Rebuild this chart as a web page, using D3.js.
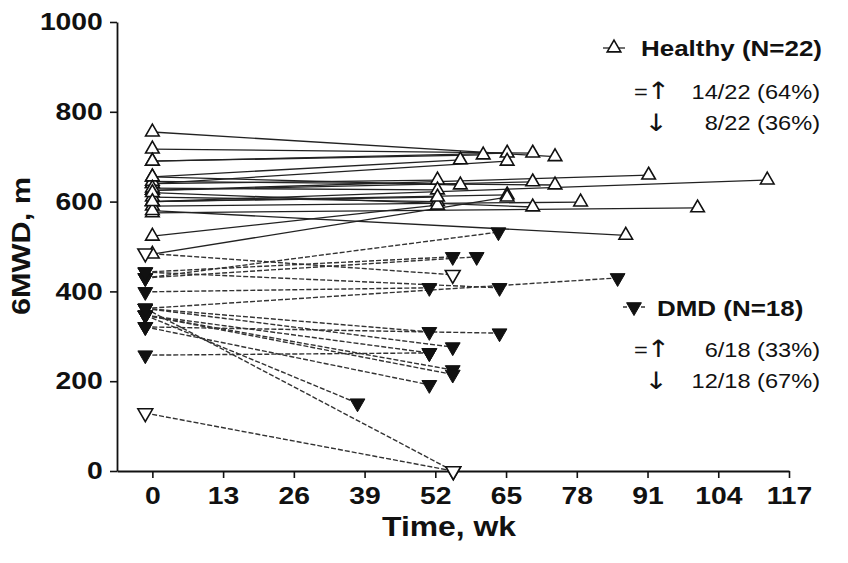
<!DOCTYPE html>
<html><head><meta charset="utf-8">
<script src="https://cdnjs.cloudflare.com/ajax/libs/d3/7.8.5/d3.min.js"></script>
<style>body{margin:0;background:#fff} text{font-family:"Liberation Sans",Arial,Helvetica,sans-serif;fill:#111}</style>
</head><body><svg id="c" width="848" height="563"></svg>
<script>
// ---- data ----
const xTicks = [0, 13, 26, 39, 52, 65, 78, 91, 104, 117];
const yTicks = [0, 200, 400, 600, 800, 1000];

// Healthy (N=22): baseline at week 0, follow-up week and value
const healthyBaseWeek = [0,0,0,0,0,0,0,0,0,0,0,0,0,0,0,0,0,0,0,0,0,0];
const healthyBase    = [755,717,690,690,655,640,625,600,640,625,645,655,630,600,590,610,575,620,580,523,483,600];
const healthyEndWeek = [74,69.9,65.2,60.8,56.6,65.2,91.2,113,52.4,69.9,74,56.6,52.4,65.2,78.7,52.4,100.2,69.9,87,52.4,65.2,52.4];
const healthyEnd     = [700,708,708,704,693,690,659,648,648,644,637,637,626,615,599,600,586,588,525,592,610,610];

// DMD (N=18): baseline plotted at week -1.3
const dmdBaseWeek = [-1.3,-1.3,-1.3,-1.3,-1.3,-1.3,-1.3,-1.3,-1.3,-1.3,-1.3,-1.3,-1.3,-1.3,-1.3,-1.3,-1.3,-1.3];
const dmdBase     = [430,443,430,399,362,258,485,129,443,362,362,347,347,347,321,347,362,321];
const dmdEndWeek  = [63.6,55.2,59.6,50.9,85.5,50.9,55.2,55.3,63.8,50.9,55.2,50.9,55.2,55.2,50.9,37.7,55.3,63.8];
const dmdEnd      = [532,477,477,408,430,263,437,0,408,310,276,263,225,215,192,151,0,307];
const dmdBaseOpen = [false,false,false,false,false,false,true,true,false,false,false,false,false,false,false,false,false,false];
const dmdEndOpen  = [false,false,false,false,false,false,true,true,false,false,false,false,false,false,false,false,true,false];

const legendHealthy = ["Healthy (N=22)", "14/22 (64%)", "8/22 (36%)"];
const legendDMD     = ["DMD (N=18)", "6/18 (33%)", "12/18 (67%)"];

// ---- drawing ----
const svg = d3.select("#c");
const SX = 1.18;
const x = d3.scaleLinear().domain([-6.5, 117]).range([117, 789]);
const y = d3.scaleLinear().domain([0, 1000]).range([471, 22]);

function txt(px, py, s, size, weight, anchor, rot, fam) {
  const t = svg.append("text")
    .attr("transform", `translate(${px},${py})` + (rot ? ` rotate(${rot})` : "") + ` scale(${SX},1)`)
    .attr("text-anchor", anchor || "start")
    .style("font-size", size + "px").style("font-weight", weight || "normal")
    .text(s);
  if (fam) t.style("font-family", fam);
  return t;
}
const AR = '"DejaVu Sans",sans-serif';
function eqArrow(px, py) {
  const t = svg.append("text").attr("transform", `translate(${px},${py}) scale(${SX},1)`)
    .style("font-size", "20px");
  t.append("tspan").text("=");
  t.append("tspan").attr("dx", -1).style("font-family", AR).style("font-size", "24px").text("\u2191");
}

// lines
const hIdx = d3.range(healthyBase.length);
svg.append("g").selectAll("line").data(hIdx).join("line")
  .attr("x1", i => x(healthyBaseWeek[i])).attr("y1", i => y(healthyBase[i]))
  .attr("x2", i => x(healthyEndWeek[i])).attr("y2", i => y(healthyEnd[i]))
  .attr("stroke", "#222").attr("stroke-width", 1.3);

const dIdx = d3.range(dmdBase.length);
svg.append("g").selectAll("line").data(dIdx).join("line")
  .attr("x1", i => x(dmdBaseWeek[i])).attr("y1", i => y(dmdBase[i]))
  .attr("x2", i => x(dmdEndWeek[i])).attr("y2", i => y(dmdEnd[i]))
  .attr("stroke", "#333").attr("stroke-width", 1.4).attr("stroke-dasharray", "5,2");

// axes
const yAxis = svg.append("g").attr("transform", "translate(117,0)")
  .call(d3.axisLeft(y).tickValues(yTicks).tickFormat(d3.format("d")).tickSize(7).tickPadding(5).tickSizeOuter(0));
const xAxis = svg.append("g").attr("transform", "translate(0,471)")
  .call(d3.axisBottom(x).tickValues(xTicks).tickFormat(d3.format("d")).tickSize(7).tickPadding(9).tickSizeOuter(0));
[yAxis, xAxis].forEach(a => {
  a.select(".domain").attr("stroke", "#111").attr("stroke-width", 1.8);
  a.selectAll(".tick line").attr("stroke", "#111").attr("stroke-width", 1.6);
  a.selectAll(".tick text").style("font-size", "24px").style("font-weight", "bold")
    .style("font-family", '"Liberation Sans",Arial,sans-serif').attr("fill", "#111")
    .attr("transform", `scale(${SX},1)`);
});

// markers
const triUp = d3.symbol().type(d3.symbolTriangle).size(80);
const triDn = d3.symbol().type(d3.symbolTriangle).size(95);
function up(g, cx, cy) {
  g.append("path").attr("d", triUp()).attr("transform", `translate(${cx},${cy})`)
    .attr("fill", "#fff").attr("stroke", "#111").attr("stroke-width", 1.6);
}
function down(g, cx, cy, open) {
  g.append("path").attr("d", triDn()).attr("transform", `translate(${cx},${cy}) rotate(180)`)
    .attr("fill", open ? "#fff" : "#111").attr("stroke", "#111").attr("stroke-width", open ? 1.6 : 1);
}
const mk = svg.append("g");
hIdx.forEach(i => { up(mk, x(healthyBaseWeek[i]), y(healthyBase[i])); up(mk, x(healthyEndWeek[i]), y(healthyEnd[i])); });
dIdx.filter(i => !dmdBaseOpen[i]).forEach(i => down(mk, x(dmdBaseWeek[i]), y(dmdBase[i]), false));
dIdx.filter(i => !dmdEndOpen[i]).forEach(i => down(mk, x(dmdEndWeek[i]), y(dmdEnd[i]), false));
dIdx.filter(i => dmdBaseOpen[i]).forEach(i => down(mk, x(dmdBaseWeek[i]), y(dmdBase[i]), true));
dIdx.filter(i => dmdEndOpen[i]).forEach(i => down(mk, x(dmdEndWeek[i]), y(dmdEnd[i]), true));

// axis titles
txt(449, 536, "Time, wk", 27, "bold", "middle");
txt(30, 246, "6MWD, m", 26, "bold", "middle", -90);

// legend
const lg = svg.append("g");
lg.append("line").attr("x1", 603).attr("x2", 625).attr("y1", 48).attr("y2", 48).attr("stroke", "#222").attr("stroke-width", 1.3);
up(lg, 614, 48);
txt(641, 56, legendHealthy[0], 22, "bold", "start");
eqArrow(634, 99);
txt(820, 99, legendHealthy[1], 20, "normal", "end");
txt(656, 131, "\u2193", 24, "normal", "middle", 0, AR);
txt(820, 130, legendHealthy[2], 20, "normal", "end");

lg.append("line").attr("x1", 623).attr("x2", 645).attr("y1", 307).attr("y2", 307).attr("stroke", "#333").attr("stroke-width", 1.4).attr("stroke-dasharray", "4,2");
down(lg, 634, 307, false);
txt(657, 316, legendDMD[0], 22, "bold", "start");
eqArrow(634, 357);
txt(820, 357, legendDMD[1], 20, "normal", "end");
txt(656, 389, "\u2193", 24, "normal", "middle", 0, AR);
txt(820, 388, legendDMD[2], 20, "normal", "end");
</script></body></html>
